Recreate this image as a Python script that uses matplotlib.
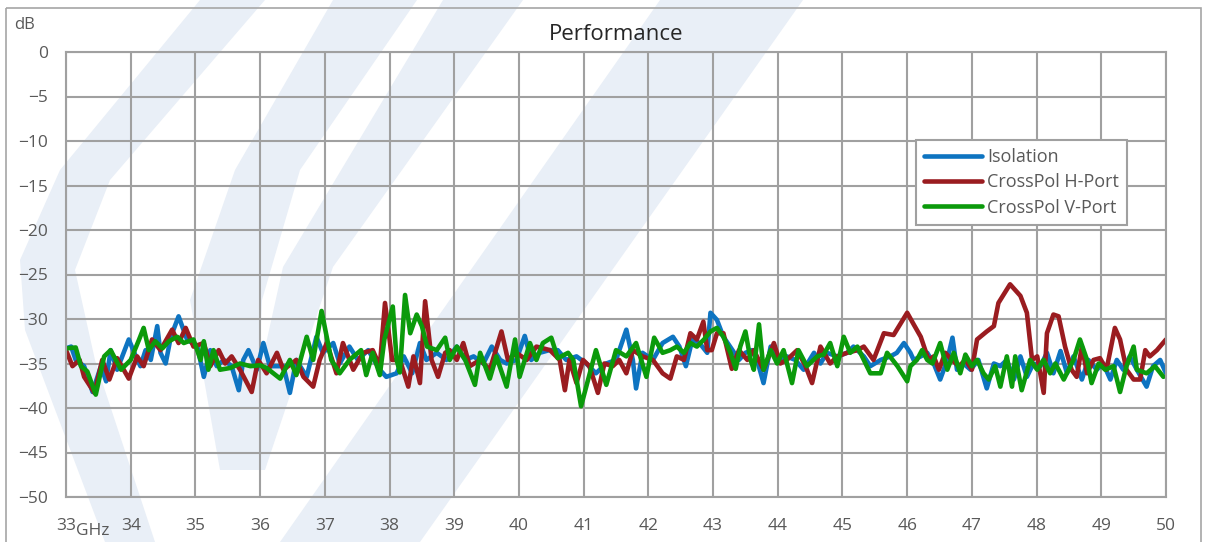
import matplotlib
matplotlib.use("Agg")
import matplotlib.pyplot as plt
from matplotlib.patches import Rectangle, Polygon

# frequencies in GHz and levels in dB
iso_f = [33.00, 33.08, 33.15, 33.28, 33.41, 33.54, 33.62, 33.69, 33.79, 33.97, 34.08, 34.15, 34.23, 34.31,
         34.41, 34.46, 34.54, 34.62, 34.74, 34.87, 35.03, 35.13, 35.23, 35.33, 35.44, 35.56, 35.67, 35.74,
         35.82, 35.95, 36.05, 36.15, 36.36, 36.46, 36.56, 36.72, 36.87, 36.97, 37.13, 37.23, 37.38, 37.51,
         37.67, 37.85, 37.95, 38.11, 38.22, 38.35, 38.47, 38.57, 38.73, 38.88, 39.04, 39.17, 39.30, 39.45,
         39.58, 39.71, 39.81, 39.96, 40.09, 40.19, 40.32, 40.47, 40.60, 40.73, 40.89, 41.04, 41.19, 41.35,
         41.50, 41.66, 41.76, 41.81, 41.91, 42.07, 42.22, 42.38, 42.48, 42.58, 42.68, 42.79, 42.91, 42.96,
         43.06, 43.16, 43.30, 43.40, 43.50, 43.60, 43.68, 43.78, 43.89, 43.99, 44.14, 44.27, 44.40, 44.56,
         44.66, 44.76, 44.92, 45.07, 45.17, 45.33, 45.43, 45.59, 45.74, 45.84, 45.95, 46.05, 46.10, 46.21,
         46.31, 46.41, 46.51, 46.62, 46.70, 46.77, 46.87, 46.98, 47.10, 47.23, 47.34, 47.44, 47.54, 47.65,
         47.75, 47.85, 47.95, 48.06, 48.16, 48.26, 48.37, 48.47, 48.57, 48.70, 48.80, 48.93, 49.03, 49.14,
         49.24, 49.34, 49.44, 49.55, 49.70, 49.80, 49.91, 50.00]
iso_db = [-33.3, -33.1, -34.6, -35.3, -38.2, -35.3, -37.0, -33.5, -35.7, -32.3, -34.2, -35.3, -33.5, -34.6,
          -30.8, -33.8, -35.0, -32.0, -29.7, -32.3, -33.1, -36.5, -33.5, -35.3, -34.6, -35.3, -38.0, -34.6,
          -33.5, -35.7, -32.7, -35.3, -35.3, -38.3, -34.6, -36.5, -32.0, -33.8, -32.7, -35.0, -33.1, -34.6,
          -33.5, -35.7, -36.5, -36.1, -34.2, -36.1, -32.7, -34.6, -33.8, -34.6, -33.1, -34.6, -34.2, -35.0,
          -33.1, -34.6, -35.0, -34.6, -31.9, -34.6, -33.8, -33.5, -33.5, -34.6, -34.2, -35.0, -36.1, -35.0,
          -34.6, -31.2, -34.6, -37.8, -33.8, -34.6, -32.7, -32.0, -33.1, -35.3, -32.3, -32.7, -33.8, -29.3,
          -30.1, -32.0, -33.5, -34.6, -33.8, -33.5, -34.6, -37.2, -33.1, -34.6, -34.2, -34.6, -35.7, -33.8,
          -35.0, -33.8, -34.2, -33.8, -33.1, -34.2, -35.3, -34.6, -34.2, -33.8, -32.7, -33.8, -34.6, -34.2,
          -33.8, -35.0, -36.8, -34.6, -32.1, -35.7, -35.0, -35.7, -34.6, -37.8, -35.0, -35.3, -34.6, -36.8,
          -34.2, -36.5, -35.0, -35.3, -33.8, -36.1, -33.6, -36.1, -34.2, -36.8, -34.6, -35.7, -35.0, -36.8,
          -34.6, -35.7, -34.2, -35.7, -37.6, -35.3, -34.6, -36.1]

hpol_f = [33.00, 33.10, 33.21, 33.28, 33.44, 33.56, 33.67, 33.79, 33.97, 34.10, 34.20, 34.33, 34.46, 34.64,
          34.74, 34.85, 34.97, 35.13, 35.23, 35.36, 35.46, 35.56, 35.69, 35.87, 35.97, 36.10, 36.26, 36.36,
          36.56, 36.67, 36.82, 36.92, 37.03, 37.18, 37.28, 37.44, 37.59, 37.74, 37.85, 37.93, 38.04, 38.16,
          38.29, 38.37, 38.47, 38.55, 38.65, 38.75, 38.86, 38.93, 39.04, 39.14, 39.24, 39.40, 39.55, 39.73,
          39.83, 39.96, 40.12, 40.27, 40.48, 40.63, 40.71, 40.78, 40.89, 40.99, 41.09, 41.22, 41.32, 41.45,
          41.55, 41.66, 41.76, 41.91, 42.07, 42.22, 42.34, 42.44, 42.55, 42.65, 42.75, 42.85, 42.91, 42.98,
          43.06, 43.16, 43.29, 43.40, 43.53, 43.63, 43.78, 43.94, 44.04, 44.14, 44.30, 44.43, 44.53, 44.66,
          44.81, 44.92, 45.07, 45.23, 45.33, 45.48, 45.64, 45.79, 46.00, 46.10, 46.21, 46.28, 46.33, 46.41,
          46.49, 46.59, 46.69, 46.80, 46.90, 47.00, 47.08, 47.23, 47.34, 47.41, 47.59, 47.75, 47.85, 47.93,
          48.01, 48.11, 48.16, 48.26, 48.34, 48.44, 48.54, 48.62, 48.70, 48.78, 48.88, 48.98, 49.08, 49.21,
          49.29, 49.39, 49.50, 49.60, 49.68, 49.75, 49.86, 50.00]
hpol_db = [-33.5, -35.3, -34.6, -36.5, -38.3, -34.6, -36.8, -34.4, -36.7, -34.2, -35.3, -32.3, -33.5, -31.2,
           -32.7, -31.0, -33.1, -32.7, -35.3, -33.5, -35.0, -34.2, -35.7, -38.2, -34.6, -36.1, -33.8, -35.7,
           -34.6, -36.5, -37.6, -34.6, -32.7, -36.1, -32.7, -35.7, -33.8, -33.5, -35.3, -28.2, -34.6, -34.6,
           -37.6, -34.2, -37.2, -28.0, -34.6, -36.5, -33.8, -33.5, -34.6, -32.7, -35.3, -34.6, -35.7, -31.4,
           -34.6, -33.8, -34.6, -33.1, -33.5, -34.6, -38.0, -34.6, -37.2, -34.6, -35.3, -38.3, -35.0, -35.3,
           -34.6, -36.1, -33.5, -34.2, -34.6, -36.1, -36.7, -34.2, -34.6, -31.6, -32.3, -30.3, -33.5, -33.5,
           -31.6, -31.6, -35.6, -33.5, -34.6, -33.5, -35.7, -32.7, -35.0, -34.6, -33.5, -35.3, -37.2, -33.1,
           -35.0, -34.2, -33.8, -33.5, -33.1, -34.6, -31.6, -31.8, -29.3, -30.6, -32.0, -33.5, -34.6, -34.2,
           -35.7, -33.8, -34.6, -35.3, -34.6, -35.7, -32.3, -31.4, -30.8, -28.2, -26.1, -27.4, -29.3, -34.6,
           -34.2, -38.3, -31.6, -29.5, -29.7, -33.1, -35.7, -36.5, -33.1, -36.1, -34.6, -34.4, -35.7, -31.0,
           -32.3, -35.7, -36.8, -36.8, -33.5, -34.2, -33.5, -32.3]

vpol_f = [33.00, 33.15, 33.23, 33.33, 33.46, 33.59, 33.69, 33.85, 34.00, 34.13, 34.20, 34.28, 34.38, 34.49,
          34.59, 34.72, 34.82, 34.97, 35.08, 35.13, 35.20, 35.28, 35.38, 35.54, 35.69, 35.85, 36.00, 36.10,
          36.31, 36.46, 36.56, 36.72, 36.82, 36.95, 37.03, 37.10, 37.23, 37.38, 37.56, 37.64, 37.74, 37.85,
          37.92, 38.05, 38.11, 38.16, 38.24, 38.32, 38.42, 38.50, 38.58, 38.73, 38.86, 38.93, 39.04, 39.17,
          39.32, 39.40, 39.55, 39.65, 39.81, 39.94, 40.01, 40.17, 40.27, 40.37, 40.50, 40.60, 40.76, 40.84,
          40.96, 41.07, 41.19, 41.35, 41.50, 41.66, 41.81, 41.97, 42.09, 42.22, 42.34, 42.44, 42.55, 42.65,
          42.75, 42.86, 42.96, 43.06, 43.16, 43.27, 43.35, 43.42, 43.50, 43.58, 43.63, 43.71, 43.78, 43.89,
          43.99, 44.09, 44.22, 44.32, 44.45, 44.61, 44.71, 44.81, 44.92, 45.02, 45.12, 45.23, 45.33, 45.43,
          45.59, 45.69, 45.85, 46.00, 46.05, 46.15, 46.23, 46.31, 46.39, 46.51, 46.62, 46.72, 46.82, 46.90,
          47.00, 47.08, 47.18, 47.26, 47.36, 47.44, 47.54, 47.62, 47.67, 47.77, 47.90, 48.01, 48.11, 48.21,
          48.29, 48.42, 48.57, 48.67, 48.78, 48.85, 48.96, 49.06, 49.19, 49.29, 49.39, 49.50, 49.55, 49.70,
          49.83, 49.96]
vpol_db = [-33.3, -33.2, -35.3, -35.9, -38.5, -34.2, -33.5, -35.7, -34.6, -32.3, -31.0, -33.5, -32.5, -33.3,
           -32.5, -32.0, -32.7, -32.3, -34.6, -32.5, -35.7, -33.5, -35.7, -35.5, -35.0, -35.3, -35.2, -35.5,
           -36.7, -34.6, -36.3, -32.0, -34.6, -29.1, -32.0, -34.6, -36.1, -34.6, -33.5, -36.3, -33.8, -36.3,
           -32.3, -28.6, -34.6, -36.0, -27.3, -31.6, -29.5, -30.8, -33.1, -33.5, -32.1, -34.6, -33.1, -34.6,
           -37.4, -33.8, -36.7, -34.2, -37.6, -32.3, -36.5, -32.7, -34.6, -32.7, -32.1, -34.4, -33.8, -34.6,
           -39.8, -36.8, -33.5, -37.4, -33.5, -34.2, -32.7, -36.5, -32.1, -33.8, -33.5, -33.1, -33.8, -32.7,
           -33.1, -32.3, -31.4, -31.0, -32.0, -33.8, -35.6, -33.1, -31.4, -34.6, -35.7, -30.6, -35.7, -33.5,
           -35.0, -33.5, -37.2, -33.5, -35.3, -34.2, -34.0, -32.7, -35.3, -32.0, -33.8, -33.1, -34.6, -36.1,
           -36.1, -33.8, -35.3, -37.0, -35.3, -34.6, -33.5, -34.6, -35.0, -32.7, -35.7, -33.8, -36.1, -34.0,
           -35.3, -34.6, -36.1, -36.8, -35.3, -37.6, -34.2, -37.6, -34.2, -38.0, -34.6, -35.7, -34.6, -36.1,
           -35.0, -36.8, -34.6, -32.3, -34.6, -37.2, -35.0, -35.7, -35.3, -38.2, -35.3, -33.1, -35.7, -36.1,
           -35.3, -36.5]

series_names = ["Isolation", "CrossPol H-Port", "CrossPol V-Port"]
series_colors = ["#0E74C1", "#9A1C20", "#0B9A0B"]

x_ticks = list(range(33, 51))
y_ticks = list(range(-50, 1, 5))

W, H = 1206, 542
plt.rcParams['font.family'] = ['Open Sans', 'DejaVu Sans']
fig = plt.figure(figsize=(W / 100, H / 100), dpi=100)

# faint logo watermark behind everything, in pixel coords (y down)
bg = fig.add_axes([0, 0, 1, 1], zorder=-1)
bg.set_xlim(0, W)
bg.set_ylim(H, 0)
bg.axis("off")
wm = "#E9EFF7"
shapes = [
    [(200, 0), (265, 0), (110, 180), (75, 270), (95, 360), (155, 542), (105, 542), (25, 330), (20, 260), (60, 170)],
    [(333, 0), (417, 0), (300, 170), (262, 300), (255, 470), (220, 470), (190, 300), (235, 170)],
    [(443, 0), (523, 0), (333, 267), (265, 470), (238, 470), (283, 267)],
    [(660, 0), (803, 0), (420, 542), (280, 542)],
]
for pts in shapes:
    bg.add_patch(Polygon(pts, closed=True, facecolor=wm, edgecolor="none"))

# outer chart frame
bg.add_patch(Rectangle((6, 8), 1195, 540, fill=False, edgecolor="#A6A6A6", lw=1.2))

ax = fig.add_axes([66 / W, 1 - 497 / H, 1100 / W, 445 / H])
ax.patch.set_alpha(0)

for f, db, name, col in zip([iso_f, hpol_f, vpol_f], [iso_db, hpol_db, vpol_db], series_names, series_colors):
    ax.plot(f, db, color=col, lw=3.3, label=name, solid_joinstyle="round", solid_capstyle="round")

ax.set_xlim(33, 50)
ax.set_ylim(-50, 0)
ax.set_xticks(x_ticks)
ax.set_yticks(y_ticks)
ax.grid(True, color="#A0A0A0", lw=1.5)
ax.set_axisbelow(True)
for s in ax.spines.values():
    s.set_color("#A0A0A0")
    s.set_linewidth(1.5)
ax.tick_params(length=0, labelsize=12.5, labelcolor="#595959")
ax.tick_params(axis="x", pad=15)
ax.tick_params(axis="y", pad=13)

ax.set_title("Performance", fontsize=16, color="#262626", pad=9)
fig.text(14 / W, 1 - 25 / H, "dB", fontsize=12, color="#595959", va="center", ha="left")
fig.text(76 / W, 1 - 531 / H, "GHz", fontsize=12.5, color="#595959", va="center", ha="left")

leg = ax.legend(loc="upper left", bbox_to_anchor=((916 - 66) / 1100, (497 - 140) / 445),
                frameon=True, fancybox=False, fontsize=13, handlelength=3.2, handletextpad=0.3,
                labelspacing=0.4, borderpad=0.45, borderaxespad=0, labelcolor="#595959",
                framealpha=1)
leg.get_frame().set_edgecolor("#A0A0A0")
leg.get_frame().set_linewidth(1.5)

fig.savefig("out.png", dpi=100)
